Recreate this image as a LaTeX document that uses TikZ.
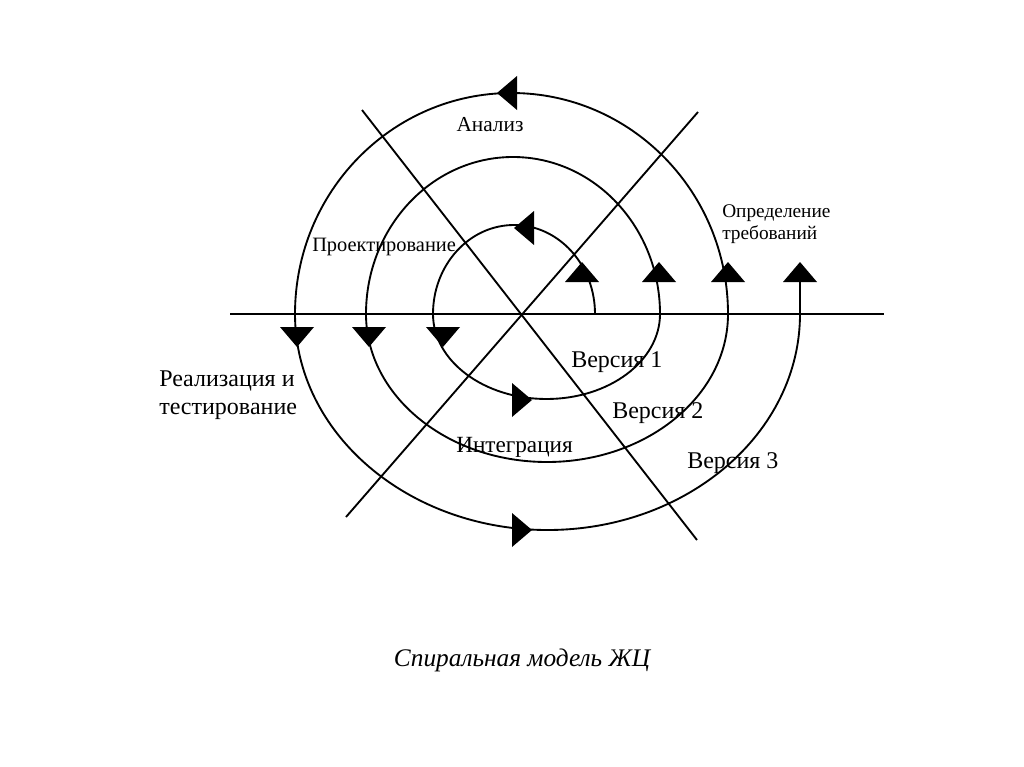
\documentclass[tikz,border=0pt]{standalone}
\usepackage{fontspec}
\setmainfont{Liberation Serif}
\newcommand\arrtri[3]{\fill[shift={(#1,#2)}, rotate=#3] (10,0) -- (-10,17) -- (-10,-17) -- cycle;}
\tikzset{
  lbl/.style={font=\fontsize{#1}{\dimexpr #1*115/100\relax}\selectfont, inner sep=0pt, align=left},
  lbl/.default=15pt,
  captxt/.style={font=\fontsize{19pt}{22pt}\selectfont\itshape, inner sep=0pt},
  ln/.style={line width=1.4pt, black},
}
\begin{document}
\begin{tikzpicture}[x=0.75pt, y=-0.75pt]
\useasboundingbox[fill=white] (0,0) rectangle (1024,767);
% axes
\draw[ln] (230,314) -- (884,314);
\draw[ln] (362,110) -- (697,540);
\draw[ln] (346,517) -- (698,112);
% spiral
\draw[ln] (595,314)
  arc[start angle=0, end angle=-180, x radius=81, y radius=89]
  arc[start angle=180, end angle=0, x radius=113.5, y radius=85]
  arc[start angle=0, end angle=-180, x radius=147, y radius=157]
  arc[start angle=180, end angle=0, x radius=181, y radius=148]
  arc[start angle=0, end angle=-180, x radius=216.5, y radius=221]
  arc[start angle=180, end angle=0, x radius=252.5, y radius=216]
  -- (800,268);
% arrowheads
\arrtri{582}{272}{90}
\arrtri{524}{228}{180}
\arrtri{443}{337}{-90}
\arrtri{522}{400}{0}
\arrtri{659}{272}{90}
\arrtri{369}{337}{-90}
\arrtri{728}{272}{90}
\arrtri{507}{93}{180}
\arrtri{297}{337}{-90}
\arrtri{522}{530}{0}
\arrtri{800}{272}{90}
% labels
\node[lbl=16pt] (an) at (490,125) {Анализ};
\node[lbl=15.3pt, anchor=west] (pr) at (312,247) {Проектирование};
\node[lbl=14.5pt, anchor=west] (op) at (722,224) {Определение\\требований};
\node[lbl=18pt, anchor=west] (re) at (159,395) {Реализация и\\тестирование};
\node[lbl=18pt, anchor=west] (v1) at (571,362) {Версия 1};
\node[lbl=18pt, anchor=west] (v2) at (612,413) {Версия 2};
\node[lbl=18pt, anchor=west] (v3) at (687,463) {Версия 3};
\node[lbl=17.4pt, anchor=west] (in) at (456,447) {Интеграция};
\node[captxt] (ca) at (522,660) {Спиральная модель ЖЦ};
\end{tikzpicture}
\end{document}
